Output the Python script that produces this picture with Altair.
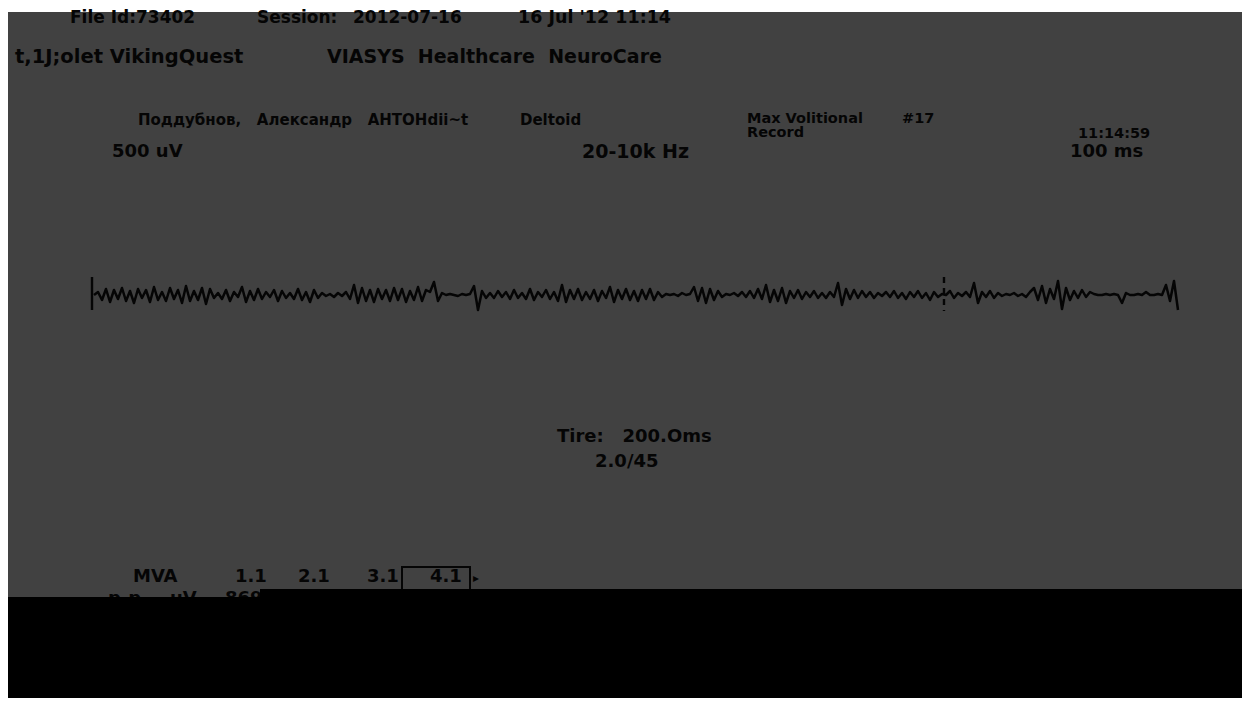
import altair as alt
import pandas as pd

# ---- EMG trace amplitudes (one value every sample) ----
seg_a = [0, 3, -5, 6, -7, 5, -4, 7, -6, 4, -8, 6, -3, 5, -7, 8, -5, 3, -6, 7, -4, 5, -8, 9, -6]
seg_b = [4, -5, 7, -9, 6, -3, 2, -4, 5, -6, 3, -2, 8, -7, 4, -5, 6, -4, 3, -2, 5, -6, 4, -3, 2]
seg_c = [-4, 6, -5, 3, -7, 5, -3, 2, -1, 1, -2, 2, -1, 3, -4, 10, -8, 7, -6, 5, -7, 6, -4, 5, -6]
seg_d = [7, -5, 6, -7, 4, -5, 8, -6, 5, 3, 13, -6, 2, 0, 1, 0, -1, 1, 0, 1, 9, -15, 4, -3, 2]
seg_e = [-3, 4, -2, 3, -4, 5, -3, 2, -4, 6, -5, 3, -2, 5, -4, 3, -6, 10, -7, 5, -4, 6, -5, 3, -4]
seg_f = [5, -6, 4, -3, 8, -7, 5, -4, 6, -5, 4, -6, 5, -4, 6, -5, 3, -2, 1, 0, 1, -1, 2, 0, 1]
seg_g = [8, -6, 7, -8, 6, -5, 4, -2, 1, 0, 2, -1, 3, -2, 4, -3, 6, -4, 10, -7, 5, -6, 7, -8, 4]
seg_h = [-3, 5, -4, 3, -2, 4, -3, 2, -3, 3, -2, 12, -10, 6, -4, 5, -3, 4, -2, 3, -3, 2, -1, 3, -2]
seg_i = [4, -3, 2, -4, 3, -2, 4, -3, 2, -5, 3, -2, 1, 0, 4, -3, 2, -1, 3, -2, 12, -8, 3, -2, 4]
seg_j = [-3, 2, -1, 1, 0, 2, -1, 1, -2, 3, 7, -5, 9, -8, 6, -4, 14, -14, 7, -5, 4, -3, 5, -2, 3]
seg_k = [1, 0, 0, 1, 0, 1, 0, -8, 2, 0, 0, 1, 0, 3, 0, 0, 1, 0, 10, -6, 14, -15]

amplitude = seg_a + seg_b + seg_c + seg_d + seg_e + seg_f + seg_g + seg_h + seg_i + seg_j + seg_k
sample = list(range(len(amplitude)))

# markers: start marker and cursor (sample position, top, bottom)
marker_sample = [-0.5, 212.5]
marker_top = [18, 18]
marker_bottom = [-15, -16]

NB = "\u00a0"  # non-breaking space keeps the wide gaps of the screen

# ---- texts ----
file_id = "File Id:73402"
session_lbl = "Session:"
session_date = "2012-07-16"
session_time = "16 Jul '12 11:14"
device = "t,1J;olet VikingQuest"
vendor = f"VIASYS{NB*2}Healthcare{NB*2}NeuroCare"
patient = f"Поддубнов,{NB*3}Александр{NB*3}АНТОНdii~t"
muscle = "Deltoid"
test_name = ["Max Volitional", "Record"]
test_no = "#17"
clock = "11:14:59"
sens = "500 uV"
filt = "20-10k Hz"
sweep = "100 ms"
time_lbl = f"Tire:{NB*3}200.Oms"
ratio_lbl = "2.0/45"
mva_cols = ["MVA", "1.1", "2.1", "3.1", "4.1"]
pp_row = ["p-p", "uV", "869"]

W, H = 1234, 690
BG = "#414141"
INK = "#050505"
FONT = "DejaVu Sans"

xs = alt.Scale(domain=[-21.5, 287], nice=False, zero=False)
ys = alt.Scale(domain=[-403, 287], nice=False, zero=False)

one = alt.Data(values=[{"k": 0}])


def label(txt, x, y, size, weight="bold", align="left"):
    return alt.Chart(alt.Data(values=[{"t": txt}])).mark_text(
        align=align, baseline="middle", font=FONT, fontSize=size,
        fontWeight=weight, color=INK
    ).encode(x=alt.value(x), y=alt.value(y), text="t:N")


def box(x, x2, y, y2, fill=None, stroke=None, sw=0):
    kw = {}
    if fill is not None:
        kw["fill"] = fill
    else:
        kw["fillOpacity"] = 0
    if stroke is not None:
        kw["stroke"] = stroke
        kw["strokeWidth"] = sw
    return alt.Chart(one).mark_rect(**kw).encode(
        x=alt.value(x), x2=alt.value(x2), y=alt.value(y), y2=alt.value(y2)
    )


trace_df = pd.DataFrame({"sample": sample, "amp": amplitude})
trace = alt.Chart(trace_df).mark_line(color=INK, strokeWidth=2.5, strokeJoin="round").encode(
    x=alt.X("sample:Q", scale=xs, axis=None),
    y=alt.Y("amp:Q", scale=ys, axis=None),
)

mk_df = pd.DataFrame({"sample": marker_sample, "top": marker_top, "bottom": marker_bottom})
start_mark = alt.Chart(mk_df.iloc[[0]]).mark_rule(color=INK, strokeWidth=2.4).encode(
    x=alt.X("sample:Q", scale=xs, axis=None),
    y=alt.Y("top:Q", scale=ys, axis=None), y2="bottom:Q")
cursor_mark = alt.Chart(mk_df.iloc[[1]]).mark_rule(color=INK, strokeWidth=2.4, strokeDash=[6, 5]).encode(
    x=alt.X("sample:Q", scale=xs, axis=None),
    y=alt.Y("top:Q", scale=ys, axis=None), y2="bottom:Q")

layers = [
    box(0, W, 0, 4, fill="white"),
    label(file_id, 62, 10, 17),
    label(session_lbl, 249, 10, 17),
    label(session_date, 345, 10, 17),
    label(session_time, 510, 10, 17.5),
    label(device, 7, 49, 19.5),
    label(vendor, 319, 49, 19),
    label(patient, 130, 112, 15),
    label(muscle, 512, 112, 15),
    label(test_name[0], 739, 111, 14.5),
    label(test_no, 894, 111, 14.5),
    label(test_name[1], 739, 125, 14.5),
    label(clock, 1070, 126, 14.5),
    label(sens, 104, 144, 18),
    label(filt, 574, 144, 19),
    label(sweep, 1062, 144, 18),
    trace, start_mark, cursor_mark,
    label(time_lbl, 549, 429, 18),
    label(ratio_lbl, 587, 454, 18),
    label(mva_cols[0], 125, 569, 18),
    label(mva_cols[1], 227, 569, 18),
    label(mva_cols[2], 290, 569, 18),
    label(mva_cols[3], 359, 569, 18),
    label(mva_cols[4], 422, 569, 18),
    box(394, 462, 559, 585, stroke=INK, sw=2),
    label("▸", 465, 570, 12),
    label(pp_row[0], 100, 591, 18),
    label(pp_row[1], 162, 591, 18),
    label(pp_row[2], 217, 591, 18),
    box(0, W, 589, H, fill="black"),
    box(252, W, 581, H, fill="black"),
]

chart = alt.layer(*layers).properties(
    width=W, height=H, padding=0, background=BG,
    autosize=alt.AutoSizeParams(type="fit", contains="padding"),
).configure_view(strokeWidth=0)

chart.save("out.html", embed_options={"renderer": "svg", "actions": False})
